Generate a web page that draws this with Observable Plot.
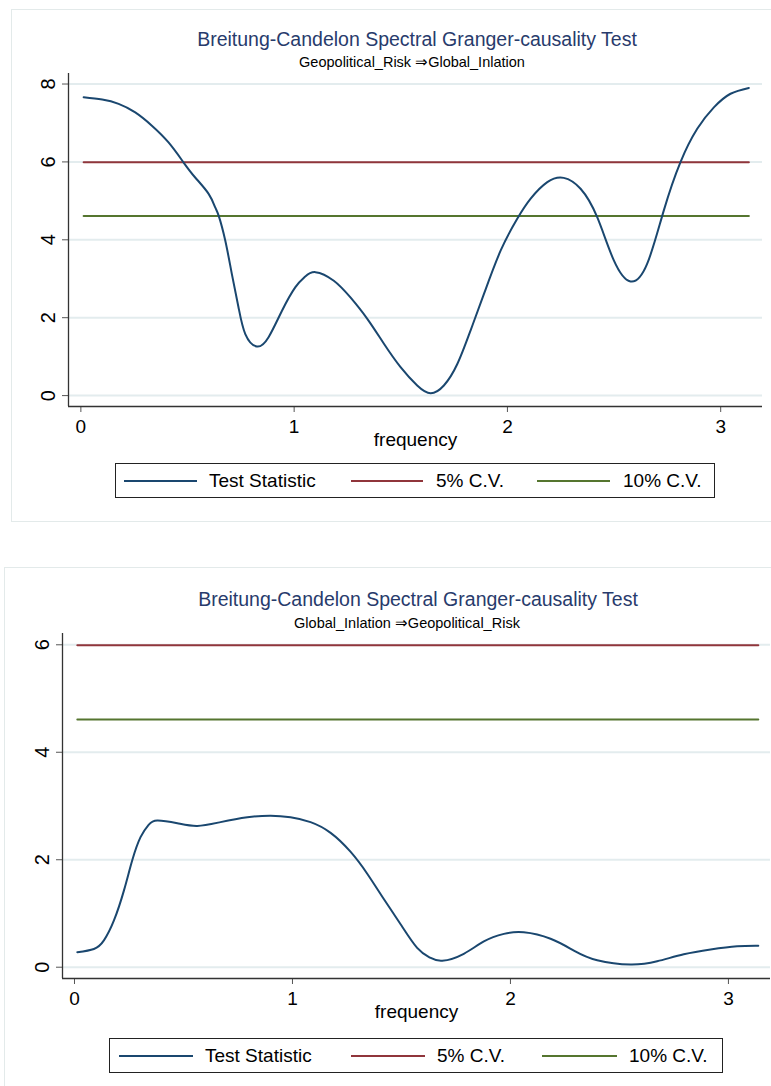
<!DOCTYPE html>
<html>
<head>
<meta charset="utf-8">
<script src="https://cdn.jsdelivr.net/npm/d3@7"></script>
<script src="https://cdn.jsdelivr.net/npm/@observablehq/plot@0.6"></script>
<style>
  html, body { margin: 0; padding: 0; background: #fff; }
  #root { position: relative; width: 771px; height: 1086px; overflow: hidden; background: #fff;
          font-family: "Liberation Sans", Arial, sans-serif; }
  .frame { position: absolute; border: 1px solid #e3eaea; }
  .title { position: absolute; text-align: center; color: #283b6c; font-size: 19.5px; line-height: 20px; white-space: nowrap; }
  .subtitle { position: absolute; text-align: center; color: #000; font-size: 14.5px; line-height: 16px; white-space: nowrap; }
  .plot { position: absolute; left: 0; }
  .legend { position: absolute; border: 1px solid #222; background: #fff; box-sizing: border-box; }
  .legend .sw { position: absolute; top: 16px; height: 0; border-top: 2px solid; }
  .legend .lb { position: absolute; top: 6px; font-size: 19px; line-height: 22px; color: #000; white-space: nowrap; }
</style>
</head>
<body>
<div id="root">
  <div class="frame" style="left:11px;top:9px;width:800px;height:511px"></div>
  <div class="frame" style="left:4px;top:567px;width:800px;height:560px"></div>

  <div class="title" style="left:117px;width:600px;top:29px">Breitung-Candelon Spectral Granger-causality Test</div>
  <div class="subtitle" style="left:112px;width:600px;top:54px">Geopolitical_Risk ⇒Global_Inlation</div>
  <div class="plot" id="p1" style="top:70px"></div>
  <div class="legend" id="lg1" style="left:115px;top:463px;width:600px;height:35px"></div>

  <div class="title" style="left:118px;width:600px;top:589px">Breitung-Candelon Spectral Granger-causality Test</div>
  <div class="subtitle" style="left:107px;width:600px;top:615px">Global_Inlation ⇒Geopolitical_Risk</div>
  <div class="plot" id="p2" style="top:630px"></div>
  <div class="legend" id="lg2" style="left:109px;top:1038px;width:614px;height:35px"></div>
</div>
<script>
// ---------------- data ----------------
const freq1 = [0.013, 0.10, 0.177, 0.255, 0.333, 0.411, 0.481, 0.536, 0.599, 0.630, 0.646, 0.677, 0.708, 0.739, 0.771, 0.825, 0.880, 0.943, 1.005, 1.050, 1.100, 1.186, 1.264, 1.343, 1.421, 1.499, 1.577, 1.640, 1.702, 1.765, 1.827, 1.890, 1.968, 2.046, 2.108, 2.187, 2.264, 2.343, 2.421, 2.499, 2.577, 2.655, 2.733, 2.811, 2.890, 2.968, 3.046, 3.132];
const stat1 = [7.66, 7.60, 7.49, 7.27, 6.93, 6.50, 5.99, 5.60, 5.18, 4.83, 4.62, 3.98, 3.12, 2.27, 1.58, 1.26, 1.50, 2.18, 2.78, 3.05, 3.17, 2.95, 2.52, 1.97, 1.33, 0.73, 0.26, 0.06, 0.26, 0.81, 1.67, 2.61, 3.72, 4.54, 5.05, 5.48, 5.59, 5.31, 4.58, 3.47, 2.93, 3.38, 4.75, 5.99, 6.85, 7.40, 7.75, 7.90];

const freq2 = [0.013, 0.089, 0.135, 0.181, 0.227, 0.265, 0.303, 0.340, 0.380, 0.472, 0.563, 0.670, 0.793, 0.900, 0.991, 1.083, 1.175, 1.266, 1.343, 1.419, 1.496, 1.572, 1.630, 1.687, 1.786, 1.878, 1.970, 2.061, 2.184, 2.291, 2.398, 2.551, 2.673, 2.795, 2.918, 3.040, 3.137];
const stat2 = [0.28, 0.34, 0.50, 0.87, 1.43, 1.99, 2.42, 2.65, 2.73, 2.68, 2.63, 2.70, 2.79, 2.82, 2.79, 2.70, 2.50, 2.15, 1.74, 1.27, 0.80, 0.36, 0.18, 0.12, 0.25, 0.48, 0.62, 0.65, 0.53, 0.31, 0.13, 0.05, 0.11, 0.24, 0.33, 0.39, 0.40];

const cv5 = 5.99;
const cv10 = 4.61;
const seriesNames = ["Test Statistic", "5% C.V.", "10% C.V."];
const xTicks = [0, 1, 2, 3];
const yTicks1 = [0, 2, 4, 6, 8];
const yTicks2 = [0, 2, 4, 6];
const xLabel = "frequency";

// ---------------- style ----------------
const FONT = '"Liberation Sans", Arial, sans-serif';
const COLORS = ["#1a476f", "#90353b", "#55752f"];
const GRID = "#e3ecee";
const AXIS = "#333";

function panel({freq, stat, yTicks, xDomain, yDomain, height, marginLeft, marginRight, marginTop, marginBottom}) {
  const rows = freq.map((f, i) => ({f, v: stat[i]}));
  const f0 = freq[0], f1 = freq[freq.length - 1];
  const cvRows = (v) => [{f: f0, v}, {f: f1, v}];
  return Plot.plot({
    width: 771, height, marginLeft, marginRight, marginTop, marginBottom,
    style: {fontFamily: FONT, fontSize: "19px", color: "#000", background: "transparent", overflow: "visible"},
    x: {domain: xDomain},
    y: {domain: yDomain},
    marks: [
      Plot.gridY(yTicks, {stroke: GRID, strokeOpacity: 1, strokeWidth: 2}),
      Plot.line(cvRows(cv5), {x: "f", y: "v", stroke: COLORS[1], strokeWidth: 2}),
      Plot.line(cvRows(cv10), {x: "f", y: "v", stroke: COLORS[2], strokeWidth: 2}),
      Plot.line(rows, {x: "f", y: "v", stroke: COLORS[0], strokeWidth: 2, curve: "natural"}),
      Plot.axisY(yTicks, {tickSize: 6, tickFormat: () => "", label: null, stroke: "#555"}),
      Plot.text(yTicks, {x: xDomain[0], y: d => d, text: d => String(d), rotate: -90, dx: -20,
                         textAnchor: "middle", lineAnchor: "middle", fontSize: 20, fill: "#000"}),
      Plot.axisX(xTicks, {tickSize: 6, tickPadding: 7, label: null, fontSize: 19, stroke: "#555",
                          tickFormat: d => String(d)}),
      Plot.ruleX([xDomain[0]], {stroke: AXIS, strokeWidth: 1.3}),
      Plot.ruleY([yDomain[0]], {stroke: AXIS, strokeWidth: 1.3}),
      Plot.text([xLabel], {frameAnchor: "bottom", dy: 39, fontSize: 19, fill: "#000"})
    ]
  });
}

document.getElementById("p1").appendChild(panel({
  freq: freq1, stat: stat1, yTicks: yTicks1,
  xDomain: [-0.058, 3.196], yDomain: [-0.28, 8.27],
  height: 385, marginLeft: 68, marginRight: 9, marginTop: 3, marginBottom: 49
}));
document.getElementById("p2").appendChild(panel({
  freq: freq2, stat: stat2, yTicks: yTicks2,
  xDomain: [-0.055, 3.193], yDomain: [-0.21, 6.21],
  height: 400, marginLeft: 62, marginRight: 1, marginTop: 3, marginBottom: 52
}));

function legend(id, pos) {
  const el = document.getElementById(id);
  seriesNames.forEach((name, i) => {
    const sw = document.createElement("div");
    sw.className = "sw";
    sw.style.left = pos[i][0] + "px";
    sw.style.width = (pos[i][1] - pos[i][0]) + "px";
    sw.style.borderTopColor = COLORS[i];
    el.appendChild(sw);
    const lb = document.createElement("div");
    lb.className = "lb";
    lb.style.left = pos[i][2] + "px";
    lb.textContent = name;
    el.appendChild(lb);
  });
}
legend("lg1", [[8, 81, 93], [235, 307, 320], [421, 494, 507]]);
legend("lg2", [[9, 83, 95], [241, 315, 327], [432, 507, 519]]);
</script>
</body>
</html>
